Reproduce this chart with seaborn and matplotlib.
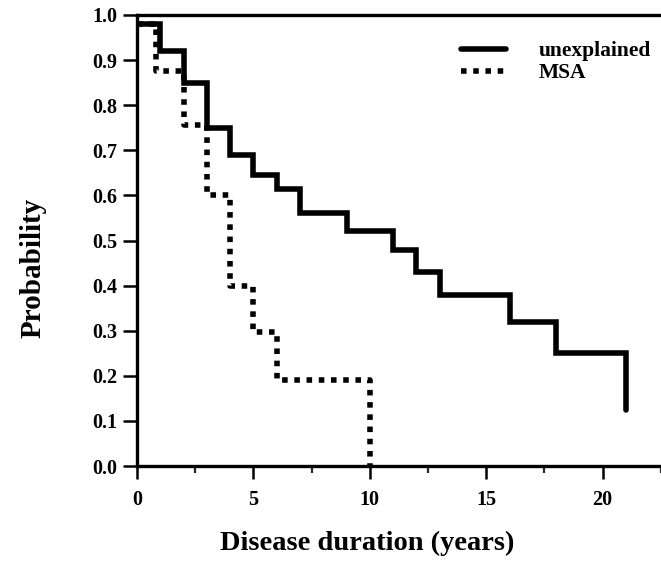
import matplotlib
matplotlib.use("Agg")
import matplotlib.pyplot as plt
import seaborn as sns
import pandas as pd
from matplotlib.ticker import MultipleLocator

# Data (Kaplan-Meier style step curves)
unexplained_years = [0, 1, 2, 3, 4, 5, 6, 7, 9, 11, 12, 13, 16, 18, 21]
unexplained_prob = [0.98, 0.92, 0.85, 0.75, 0.69, 0.645, 0.615, 0.56, 0.52,
                    0.48, 0.43, 0.38, 0.32, 0.25, 0.125]
msa_years = [0, 0.8, 2, 3, 4, 5, 6, 10]
msa_prob = [0.98, 0.875, 0.755, 0.60, 0.40, 0.297, 0.19, 0.0]

x_ticks = [0, 5, 10, 15, 20]
y_ticks = [0.0, 0.1, 0.2, 0.3, 0.4, 0.5, 0.6, 0.7, 0.8, 0.9, 1.0]

sns.set_theme(style="white")
plt.rcParams['font.family'] = ['Liberation Serif', 'DejaVu Serif']
plt.rcParams['font.weight'] = 'bold'

W, H = 661, 565
fig = plt.figure(figsize=(W / 100, H / 100), dpi=100)
ax_w = (W - 137) / W + 0.01
ax = fig.add_axes([137 / W, (H - 466) / H, ax_w, (466 - 15) / H])
ax_w_px = ax_w * W

df_u = pd.DataFrame({"years": unexplained_years, "prob": unexplained_prob})
df_m = pd.DataFrame({"years": msa_years, "prob": msa_prob})

sns.lineplot(data=df_u, x="years", y="prob", ax=ax, color="black", lw=4.0,
             drawstyle="steps-post", estimator=None, label="unexplained",
             solid_joinstyle="miter")
sns.lineplot(data=df_m, x="years", y="prob", ax=ax, color="black", lw=4.0,
             drawstyle="steps-post", estimator=None, label="MSA",
             linestyle=(0, (1, 1.2)), dash_capstyle="butt")

ax.set_xlim(0, (W + 7 - 137) / 23.3)
ax.set_ylim(0, 1.0)
ax.set_xticks(x_ticks)
ax.set_xticklabels([str(v) for v in x_ticks])
ax.xaxis.set_minor_locator(MultipleLocator(2.5))
ax.set_yticks(y_ticks)
ax.set_yticklabels([f"{v:.1f}" for v in y_ticks])

for s in ["left", "bottom", "top"]:
    ax.spines[s].set_visible(True)
    ax.spines[s].set_color("black")
    ax.spines[s].set_linewidth(2.4)
ax.spines["right"].set_visible(False)

ax.tick_params(axis="x", which="major", direction="out", length=9.5, width=1.8,
               bottom=True, labelsize=14.5, pad=8, colors="black")
ax.tick_params(axis="x", which="minor", direction="out", length=5, width=1.6,
               bottom=True)
ax.tick_params(axis="y", which="major", direction="out", length=10, width=1.8,
               left=True, labelsize=14.5, pad=4, colors="black")
for lab in ax.get_xticklabels() + ax.get_yticklabels():
    lab.set_fontweight("bold")

ax.set_xlabel("Disease duration (years)", fontsize=20.5, fontweight="bold",
              color="black")
ax.set_ylabel("Probability", fontsize=21, fontweight="bold", color="black")
ax.xaxis.set_label_coords((367 - 137) / ax_w_px, (466 - 531) / 451)
ax.yaxis.set_label_coords((47 - 137) / ax_w_px, (466 - 268) / 451)

leg = ax.legend(loc="upper left", bbox_to_anchor=(461 / W, 1 - 41 / H),
                bbox_transform=fig.transFigure, frameon=False, fontsize=15.5,
                handlelength=2.1, handletextpad=1.5, labelspacing=0.1,
                borderpad=0, borderaxespad=0)
for t in leg.get_texts():
    t.set_fontweight("bold")
    t.set_color("black")

fig.savefig("out.png", dpi=100)
